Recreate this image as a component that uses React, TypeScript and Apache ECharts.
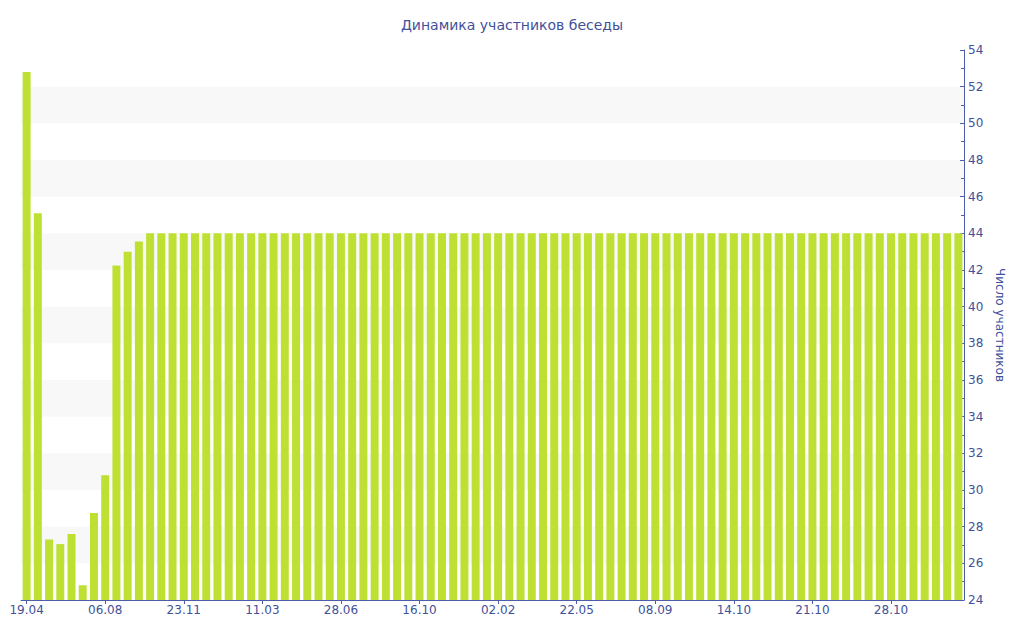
import React, { useEffect, useRef } from "react";
import * as echarts from "echarts";

const categories: string[] = [
  "19.04", "05.05", "20.05", "05.06", "20.06", "06.07", "21.07",
  "06.08", "21.08", "06.09", "21.09", "07.10", "22.10", "07.11",
  "23.11", "09.12", "24.12", "09.01", "24.01", "09.02", "24.02",
  "11.03", "27.03", "11.04", "27.04", "12.05", "28.05", "12.06",
  "28.06", "14.07", "29.07", "14.08", "29.08", "14.09", "30.09",
  "16.10", "01.11", "16.11", "02.12", "17.12", "02.01", "17.01",
  "02.02", "18.02", "05.03", "21.03", "05.04", "21.04", "06.05",
  "22.05", "07.06", "22.06", "08.07", "23.07", "08.08", "23.08",
  "08.09", "13.09", "18.09", "23.09", "28.09", "03.10", "08.10",
  "14.10", "15.10", "16.10", "17.10", "18.10", "19.10", "20.10",
  "21.10", "22.10", "23.10", "24.10", "25.10", "26.10", "27.10",
  "28.10", "29.10", "30.10", "31.10", "01.11", "02.11", "03.11",
];

const earlyValues: number[] = [52.8, 45.1, 27.3, 27.05, 27.6, 24.8, 28.75, 30.8, 42.25, 43.0, 43.55];
const laterValues: number[] = [
  44, 44, 44, 44, 44, 44, 44, 44, 44, 44, 44, 44, 44, 44, 44, 44, 44, 44, 44, 44,
  44, 44, 44, 44, 44, 44, 44, 44, 44, 44, 44, 44, 44, 44, 44, 44, 44, 44, 44, 44,
  44, 44, 44, 44, 44, 44, 44, 44, 44, 44, 44, 44, 44, 44, 44, 44, 44, 44, 44, 44,
  44, 44, 44, 44, 44, 44, 44, 44, 44, 44, 44, 44, 44,
];
const values: number[] = [...earlyValues, ...laterValues];

const title = "Динамика участников беседы";
const yAxisName = "Число участников";

const TEXT = "#41519b";
const AXIS = "#4d5da8";
const BAR = "#bee033";
const FONT = "DejaVu Sans";

export default function App() {
  const ref = useRef<HTMLDivElement>(null);
  useEffect(() => {
    if (!ref.current) return;
    const chart = echarts.init(ref.current, null, { renderer: "svg" });
    chart.setOption({
      animation: false,
      backgroundColor: "#ffffff",
      textStyle: { fontFamily: FONT },
      title: {
        text: title,
        left: "center",
        top: 13,
        textStyle: { color: TEXT, fontSize: 14, fontWeight: "normal", fontFamily: FONT },
      },
      grid: { left: 21, right: 60, top: 50, bottom: 40 },
      xAxis: {
        type: "category",
        data: categories,
        boundaryGap: true,
        axisLine: { lineStyle: { color: AXIS, width: 1 } },
        axisTick: { show: true, interval: 6, alignWithLabel: true, length: 4, lineStyle: { color: AXIS } },
        axisLabel: { interval: 6, color: TEXT, fontSize: 12, fontFamily: FONT, margin: 4 },
        splitLine: { show: false },
      },
      yAxis: {
        type: "value",
        position: "right",
        min: 24,
        max: 54,
        interval: 2,
        name: yAxisName,
        nameLocation: "middle",
        nameRotate: -90,
        nameGap: 29,
        nameTextStyle: { color: TEXT, fontSize: 12, fontFamily: FONT },
        axisLine: { show: true, lineStyle: { color: AXIS, width: 1 } },
        axisTick: { show: true, inside: true, length: 4, lineStyle: { color: AXIS } },
        minorTick: { show: true, splitNumber: 2, length: 3, lineStyle: { color: AXIS } },
        axisLabel: { color: TEXT, fontSize: 12, fontFamily: FONT, margin: 4 },
        splitLine: { show: false },
        splitArea: { show: true, areaStyle: { color: ["rgba(255,255,255,0)", "#f8f8f8"] } },
      },
      series: [
        {
          type: "bar",
          data: values,
          barCategoryGap: "29%",
          itemStyle: { color: BAR },
        },
      ],
    });
    return () => chart.dispose();
  }, []);
  return (
    <div
      ref={ref}
      style={{ position: "fixed", left: 0, top: 0, width: 1024, height: 640 }}
    />
  );
}
